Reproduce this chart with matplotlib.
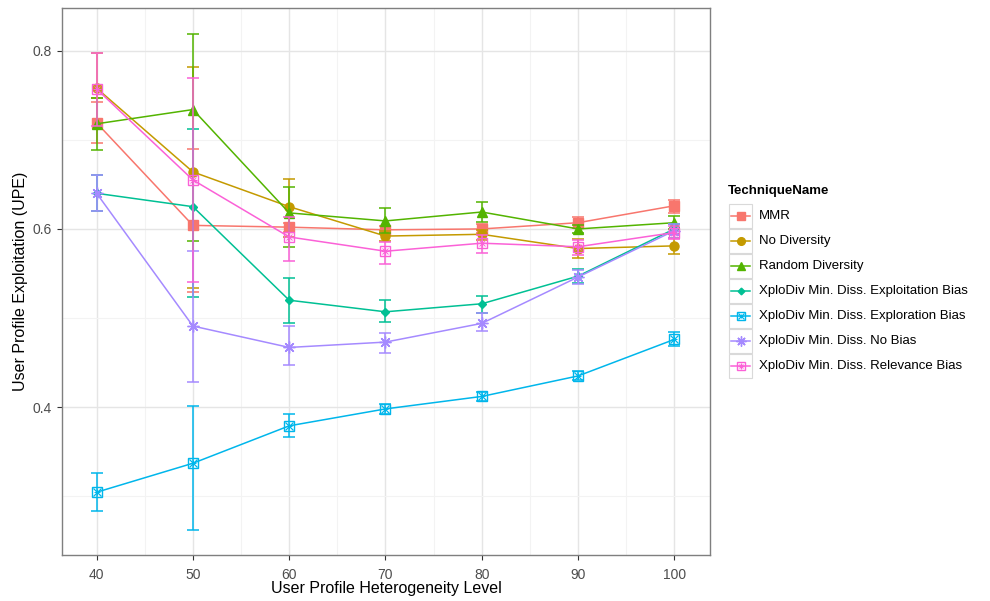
import matplotlib.pyplot as plt
from matplotlib.lines import Line2D
from matplotlib.patches import Rectangle

plt.rcParams['font.family'] = ['Liberation Sans', 'DejaVu Sans']

levels = [40, 50, 60, 70, 80, 90, 100]

techniques = ['MMR', 'No Diversity', 'Random Diversity',
              'XploDiv Min. Diss. Exploitation Bias',
              'XploDiv Min. Diss. Exploration Bias',
              'XploDiv Min. Diss. No Bias',
              'XploDiv Min. Diss. Relevance Bias']

# mean UPE and the lower / upper ends of each error bar
mmr = [0.719, 0.604, 0.602, 0.599, 0.600, 0.607, 0.626]
mmr_lo = [0.696, 0.529, 0.597, 0.595, 0.595, 0.601, 0.618]
mmr_hi = [0.743, 0.690, 0.607, 0.603, 0.605, 0.613, 0.632]

no_div = [0.758, 0.664, 0.625, 0.592, 0.594, 0.578, 0.581]
no_div_lo = [0.747, 0.534, 0.591, 0.586, 0.588, 0.567, 0.572]
no_div_hi = [0.797, 0.782, 0.656, 0.598, 0.599, 0.589, 0.590]

rand_div = [0.718, 0.734, 0.618, 0.609, 0.619, 0.600, 0.607]
rand_div_lo = [0.689, 0.587, 0.580, 0.596, 0.608, 0.595, 0.600]
rand_div_hi = [0.747, 0.819, 0.647, 0.624, 0.630, 0.604, 0.615]

exploit = [0.640, 0.625, 0.520, 0.507, 0.516, 0.547, 0.600]
exploit_lo = [0.620, 0.524, 0.494, 0.495, 0.506, 0.539, 0.594]
exploit_hi = [0.660, 0.712, 0.545, 0.520, 0.525, 0.555, 0.606]

explore = [0.3045, 0.337, 0.379, 0.398, 0.412, 0.435, 0.476]
explore_lo = [0.283, 0.262, 0.366, 0.392, 0.407, 0.430, 0.469]
explore_hi = [0.326, 0.401, 0.392, 0.404, 0.417, 0.440, 0.484]

no_bias = [0.640, 0.491, 0.467, 0.473, 0.494, 0.546, 0.598]
no_bias_lo = [0.620, 0.428, 0.447, 0.461, 0.485, 0.538, 0.590]
no_bias_hi = [0.660, 0.575, 0.491, 0.483, 0.506, 0.554, 0.606]

relevance = [0.757, 0.655, 0.591, 0.575, 0.584, 0.580, 0.596]
relevance_lo = [0.715, 0.540, 0.564, 0.561, 0.573, 0.571, 0.589]
relevance_hi = [0.797, 0.769, 0.613, 0.585, 0.593, 0.588, 0.603]

series = [
    (mmr, mmr_lo, mmr_hi),
    (no_div, no_div_lo, no_div_hi),
    (rand_div, rand_div_lo, rand_div_hi),
    (exploit, exploit_lo, exploit_hi),
    (explore, explore_lo, explore_hi),
    (no_bias, no_bias_lo, no_bias_hi),
    (relevance, relevance_lo, relevance_hi),
]

colors = ['#F8766D', '#C49A00', '#53B400', '#00C094', '#00B6EB', '#A58AFF', '#FB61D7']

# (marker, size, filled, overlay marker)
marks = [('s', 6.5, True, None),
         ('o', 6.5, True, None),
         ('^', 7.5, True, None),
         ('D', 4.0, True, None),
         ('s', 6.5, False, 'x'),
         ((8, 2, 0), 8.5, False, None),
         ('s', 6.5, False, '+')]


def marker_lines(x, y, c, m, scale=1.0, **kw):
    marker, ms, filled, over = m
    ms = ms * scale
    out = [Line2D(x, y, ls='none', marker=marker, ms=ms,
                  mfc=c if filled else 'none', mec=c, mew=1.0, **kw)]
    if over is not None:
        out.append(Line2D(x, y, ls='none', marker=over, ms=ms * 0.8,
                          mec=c, mew=0.9, **kw))
        out.append(Line2D(x, y, ls='none', marker='x' if over == '+' else '+',
                          ms=ms * 0.6, mec=c, mew=0.7, **kw))
    return out


fig = plt.figure(figsize=(9.9, 6.01), dpi=100)
ax = fig.add_axes([0.0626, 0.0765, 0.6545, 0.9102])

for (y, lo, hi), c, m in zip(series, colors, marks):
    yerr = [[v - l for v, l in zip(y, lo)], [h - v for v, h in zip(y, hi)]]
    ax.errorbar(levels, y, yerr=yerr, color=c, elinewidth=1.1,
                capsize=4.3, capthick=1.1, fmt='none')
    ax.plot(levels, y, color=c, lw=1.1)
    for ln in marker_lines(levels, y, c, m):
        ax.add_line(ln)

ax.set_xlim(36.4, 103.7)
ax.set_ylim(0.234, 0.848)
ax.set_xticks(levels)
ax.set_xticks([45, 55, 65, 75, 85, 95], minor=True)
ax.set_yticks([0.4, 0.6, 0.8])
ax.set_yticklabels(['0.4', '0.6', '0.8'])
ax.set_yticks([0.3, 0.5, 0.7], minor=True)
ax.grid(which='major', color='#E5E5E5', lw=1.0)
ax.grid(which='minor', color='#F3F3F3', lw=0.8)
ax.set_axisbelow(True)
for s in ax.spines.values():
    s.set_color('#7F7F7F')
    s.set_linewidth(1.0)
ax.tick_params(which='major', length=3.5, width=0.8, color='#333333',
               labelcolor='#4D4D4D', labelsize=10, pad=4)
ax.tick_params(axis='x', which='major', pad=6)
ax.tick_params(which='minor', length=0)
ax.set_xlabel('User Profile Heterogeneity Level', fontsize=11.5, labelpad=-1)
ax.set_ylabel('User Profile Exploitation (UPE)', fontsize=11.5, labelpad=3)

# legend drawn in figure pixels
W, H = 990.0, 601.0
fig.text(728 / W, 1 - 191 / H, 'TechniqueName', fontsize=9.5,
         fontweight='bold', va='center', ha='left')
for i, (name, c, m) in enumerate(zip(techniques, colors, marks)):
    yc = 1 - (216 + 25 * i) / H
    fig.add_artist(Rectangle((729 / W, yc - 12 / H), 23 / W, 24 / H,
                             transform=fig.transFigure, facecolor='white',
                             edgecolor='#D9D9D9', lw=0.8))
    fig.add_artist(Line2D([731 / W, 750 / W], [yc, yc],
                          transform=fig.transFigure, color=c, lw=1.1))
    for ln in marker_lines([740.5 / W], [yc], c, m, scale=0.85,
                           transform=fig.transFigure):
        fig.add_artist(ln)
    fig.text(759 / W, yc, name, fontsize=9.5, va='center', ha='left')

fig.savefig('out.png', dpi=100)
